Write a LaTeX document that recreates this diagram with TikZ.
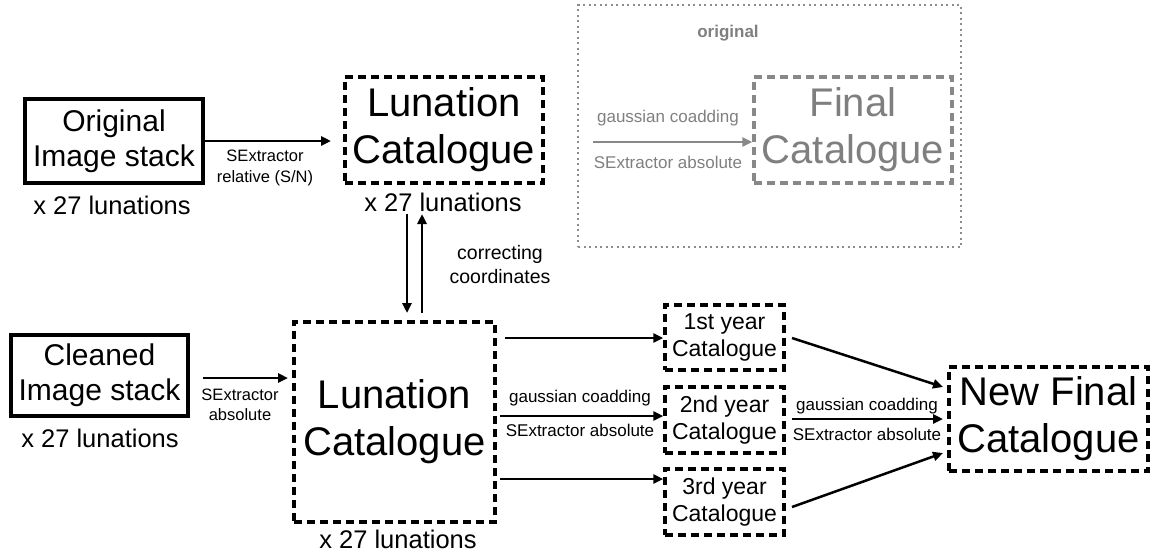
\documentclass[tikz,border=0pt]{standalone}
\usepackage{fontspec}
\setmainfont{Liberation Sans}
\usetikzlibrary{arrows.meta}
\definecolor{gtext}{HTML}{7F7F7F}
\definecolor{gline}{HTML}{888888}
\definecolor{gdot}{HTML}{8C8C8C}
\begin{document}
\begin{tikzpicture}[x=1pt,y=-1pt,
  solidbox/.style={draw, line width=4pt, inner sep=0pt, align=center},
  dashbox/.style={draw, line width=3.5pt, dash pattern=on 8pt off 5pt, inner sep=0pt, align=center},
  bigtxt/.style={font=\fontsize{40}{47}\selectfont},
  midtxt/.style={font=\fontsize{30}{35}\selectfont},
  yeartxt/.style={font=\fontsize{23}{27}\selectfont},
  counttxt/.style={inner sep=0pt, font=\fontsize{25.5}{30}\selectfont},
  lbl/.style={align=center, inner sep=0pt, font=\fontsize{17}{21}\selectfont},
  smalllbl/.style={align=center, inner sep=0pt, font=\fontsize{16.5}{20.5}\selectfont},
  arr/.style={line width=2.5pt, -{Triangle[length=10pt,width=9pt]}},
  garr/.style={line width=2.5pt, draw=gline, -{Triangle[length=10pt,width=9pt]}}
]
\useasboundingbox (0,0) rectangle (1156,552);

% ---------- grey "original" panel ----------
\node[draw=gdot, line width=2.2pt, dash pattern=on 2pt off 3.5pt, minimum width=383pt, minimum height=242pt, inner sep=0pt] (panel) at (769.5,126) {};
\node[font=\bfseries\fontsize{17}{19}\selectfont, text=gtext, inner sep=0pt] (origtitle) at (728,33) {original};
\node[dashbox, draw=gline, text=gtext, bigtxt, minimum width=198pt, minimum height=106pt] (final) at (853,130) {Final\\Catalogue};
\coordinate (gstart) at (593,142);
\draw[garr] (gstart) -- (gstart -| final.west);
\node[lbl, text=gtext] (gl1) at (668,118) {gaussian coadding};
\node[lbl, text=gtext] (gl2) at (668,162) {SExtractor absolute};

% ---------- top row ----------
\node[solidbox, midtxt, minimum width=178pt, minimum height=84pt] (orig) at (114,141) {Original\\Image stack};
\node[counttxt] (origlab) at (112,205) {x 27 lunations};
\node[dashbox, bigtxt, minimum width=198pt, minimum height=106pt] (toplun) at (444,130) {Lunation\\Catalogue};
\node[counttxt] (toplab) at (443,202) {x 27 lunations};
\coordinate (origend) at (331,141);
\draw[arr] (orig.east |- origend) -- (origend);
\node[smalllbl] (rel) at (265,168) {SExtractor\\relative (S/N)};

% ---------- correcting coordinates ----------
\coordinate (dnA) at (407,214);
\coordinate (dnB) at (407,313);
\coordinate (upA) at (422,313);
\coordinate (upB) at (422,214);
\draw[arr] (dnA) -- (dnB);
\draw[arr] (upA) -- (upB);
\node[align=center, inner sep=0pt, font=\fontsize{19.5}{24}\selectfont] (corr) at (500,265) {correcting\\coordinates};

% ---------- bottom row ----------
\node[solidbox, midtxt, minimum width=177pt, minimum height=81pt] (clean) at (99.5,375.5) {Cleaned\\Image stack};
\node[counttxt] (cleanlab) at (100,438) {x 27 lunations};
\node[dashbox, bigtxt, minimum width=201pt, minimum height=200pt] (lowlun) at (394.5,422) {Lunation\\Catalogue};
\node[counttxt] (lowlab) at (398,539) {x 27 lunations};
\coordinate (cleanA) at (203,378);
\coordinate (cleanB) at (288,378);
\draw[arr] (cleanA) -- (cleanB);
\node[smalllbl] (abs) at (240,405) {SExtractor\\absolute};

\node[dashbox, yeartxt, minimum width=119pt, minimum height=65pt] (y1) at (724.5,337.5) {1st year\\Catalogue};
\node[dashbox, yeartxt, minimum width=119pt, minimum height=66pt] (y2) at (724.5,420) {2nd year\\Catalogue};
\node[dashbox, yeartxt, minimum width=119pt, minimum height=66pt] (y3) at (724.5,502) {3rd year\\Catalogue};

\coordinate (a1) at (505,338);
\coordinate (a2) at (500,416);
\coordinate (a3) at (500,479);
\draw[arr] (a1) -- (a1 -| y1.west);
\draw[arr] (a2) -- (a2 -| y2.west);
\draw[arr] (a3) -- (a3 -| y3.west);
\node[lbl] (m1) at (580,398) {gaussian coadding};
\node[lbl] (m2) at (580,430) {SExtractor absolute};

\node[dashbox, bigtxt, minimum width=199pt, minimum height=104pt] (newfin) at (1048.5,419) {New Final\\Catalogue};
\coordinate (b1s) at (792,338);
\coordinate (b1e) at (943,387);
\coordinate (b2s) at (792,419);
\coordinate (b2e) at (943,419);
\coordinate (b3s) at (792,507);
\coordinate (b3e) at (943,453);
\draw[arr] (b1s) -- (b1e);
\draw[arr] (b2s) -- (b2e);
\draw[arr] (b3s) -- (b3e);
\node[lbl] (n1) at (867,406) {gaussian coadding};
\node[lbl] (n2) at (867,434) {SExtractor absolute};
\end{tikzpicture}
\end{document}
